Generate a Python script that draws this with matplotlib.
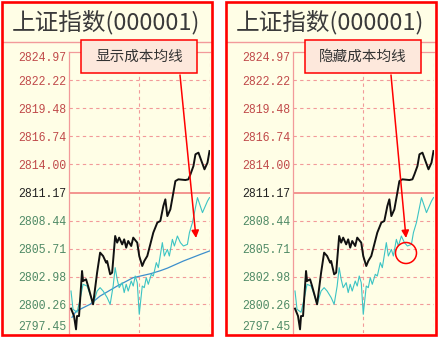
import matplotlib
matplotlib.use("Agg")
import matplotlib.pyplot as plt
from matplotlib.patches import Rectangle, Circle, FancyArrowPatch
from matplotlib.lines import Line2D
from matplotlib.transforms import IdentityTransform

plt.rcParams['font.family'] = ['Noto Sans CJK SC', 'DejaVu Sans']

# ==========================================
# ================DONNÉES===================
# ==========================================

title = "上证指数(000001)"
box_labels = ["显示成本均线", "隐藏成本均线"]

# Graduations de l'axe des prix (haut -> bas)
y_ticks = [2824.97, 2822.22, 2819.48, 2816.74, 2814.00, 2811.17,
           2808.44, 2805.71, 2802.98, 2800.26, 2797.45]
prev_close = 2811.17

# Cours (ligne noire), en minutes depuis le bord gauche visible
price_t = [2, 5, 7, 8, 10, 13, 14, 17, 19, 24, 28, 31, 34, 37, 38, 41, 43,
           46, 48, 50, 53, 55, 57, 59, 62, 64, 68, 70, 73, 75, 78, 81, 84,
           88, 91, 94, 96, 98, 101, 104, 106, 109, 116, 119, 121, 124, 126,
           129, 132, 135, 138, 140]
price_v = [2799.84, 2799.11, 2797.81, 2799.11, 2799.11, 2803.52, 2802.54,
           2802.71, 2802.05, 2800.26, 2803.36, 2805.32, 2804.99, 2804.34,
           2804.50, 2803.20, 2803.36, 2806.95, 2806.30, 2806.79, 2806.13,
           2806.62, 2805.81, 2806.46, 2805.97, 2806.79, 2806.30, 2804.99,
           2804.01, 2804.50, 2804.99, 2806.13, 2807.28, 2808.26, 2808.42,
           2809.88, 2810.54, 2808.90, 2809.56, 2811.20, 2812.33, 2812.50,
           2812.43, 2812.50, 2812.99, 2813.80, 2814.95, 2815.11, 2814.29,
           2813.48, 2814.13, 2815.27]

# Ligne cyan
avg_t = [2, 4, 8, 11, 14, 18, 21, 24, 28, 31, 34, 38, 41, 44, 46, 48, 50,
         53, 55, 57, 59, 62, 64, 66, 68, 70, 73, 75, 77, 79, 82, 84, 87, 89,
         93, 95, 98, 100, 103, 105, 108, 111, 114, 118, 120, 123, 128, 133,
         138, 140]
avg_v = [2801.56, 2799.77, 2799.48, 2800.75, 2802.22, 2802.05, 2801.24,
         2800.26, 2801.56, 2801.89, 2801.56, 2800.92, 2800.26, 2802.05,
         2803.85, 2802.71, 2801.89, 2802.38, 2801.41, 2802.22, 2801.56,
         2802.54, 2802.05, 2803.03, 2802.38, 2799.28, 2802.05, 2801.89,
         2802.87, 2802.22, 2803.20, 2803.03, 2804.34, 2803.85, 2806.30,
         2804.99, 2805.64, 2804.99, 2806.62, 2805.97, 2806.95, 2806.30,
         2805.97, 2806.13, 2807.28, 2808.26, 2810.71, 2809.24, 2810.37,
         2810.71]

# Ligne de coût moyen (bleue), seulement dans le panneau gauche
cost_t = [3, 7, 13, 21, 31, 48, 64, 81, 91, 98, 114, 131, 140]
cost_v = [2798.99, 2799.57, 2799.87, 2800.26, 2801.07, 2802.05, 2802.87,
          2803.25, 2803.55, 2803.80, 2804.50, 2805.15, 2805.48]

# ==========================================
# ================FIGURE====================
# ==========================================

W, H = 438, 337
fig = plt.figure(figsize=(W / 100, H / 100), dpi=100, facecolor='white')
px = IdentityTransform()

bg = '#fffee6'
pink = '#f29a9a'
red_lbl = '#c04a4a'
green_lbl = '#4f8a66'

# position des fleches (depart x, arrivee x) pour chaque panneau
arrow_x = [(180, 196), (391, 406)]


def box(x0, y0, x1, y1, **kw):
    # rectangle en pixels (origine en haut a gauche)
    r = Rectangle((x0, H - y1), x1 - x0, y1 - y0, transform=px, **kw)
    fig.add_artist(r)
    return r


for k in range(2):
    dx = 224 * k

    # fond + ligne sous le titre
    box(2 + dx, 2, 212 + dx, 335, facecolor=bg, edgecolor='none', zorder=-2)
    fig.add_artist(Line2D([3 + dx, 211 + dx], [H - 42, H - 42], transform=px,
                          color=pink, lw=1.0, zorder=-1))
    fig.text(12 + dx, H - 22.5, title, transform=px, ha='left', va='center',
             fontsize=17, color='#3a3a3a')

    ax = fig.add_axes([(69 + dx) / W, 4 / H, 140.5 / W, 281 / H])
    ax.set_facecolor(bg)
    ax.set_xlim(0, 140)
    ax.set_ylim(y_ticks[-1], y_ticks[0])

    for v in y_ticks[1:-1]:
        if v == prev_close:
            ax.axhline(v, color='#f07878', lw=1.1, zorder=1)
        else:
            ax.axhline(v, color=pink, lw=0.8, ls=(0, (3, 3)), zorder=1)
    ax.axvline(70, color=pink, lw=0.8, ls=(0, (3, 3)), zorder=1)
    ax.axvline(140, color=pink, lw=0.8, ls=(0, (3, 3)), zorder=1)

    for s in ['right', 'bottom']:
        ax.spines[s].set_visible(False)
    for s in ['left', 'top']:
        ax.spines[s].set_color(pink)
        ax.spines[s].set_linewidth(0.9)

    ax.set_xticks([])
    ax.set_yticks(y_ticks)
    ax.set_yticklabels(['%.2f' % v for v in y_ticks], family='Liberation Mono',
                       fontsize=8.3)
    ax.tick_params(axis='y', length=0, pad=2)
    labels = ax.get_yticklabels()
    for v, lab in zip(y_ticks, labels):
        if v > prev_close:
            lab.set_color(red_lbl)
        elif v < prev_close:
            lab.set_color(green_lbl)
        else:
            lab.set_color('#222222')
    labels[0].set_va('top')
    labels[-1].set_va('bottom')

    if k == 0:
        ax.plot(cost_t, cost_v, color='#3d8fcc', lw=0.9, zorder=3)
    ax.plot(avg_t, avg_v, color='#3cc4c4', lw=0.8, zorder=3)
    ax.plot(price_t, price_v, color='#111111', lw=1.4, zorder=4)

    # cadre rouge par dessus
    box(2 + dx, 2, 212 + dx, 335, facecolor='none', edgecolor='#ff0000',
        lw=1.9, zorder=5)

    # boite d'annotation + fleche
    box(81 + dx, 40, 197 + dx, 73, facecolor='#fde8dc', edgecolor='#ff0000',
        lw=1.1, zorder=6)
    fig.text(139 + dx, H - 57, box_labels[k], transform=px, ha='center',
             va='center', fontsize=10.5, color='#333333', zorder=7)
    x_from, x_to = arrow_x[k]
    arr = FancyArrowPatch((x_from, H - 75), (x_to, H - 238),
                          transform=px, arrowstyle='-|>', mutation_scale=11,
                          color='#ff0000', lw=1.1, shrinkA=0, shrinkB=0, zorder=6)
    fig.add_artist(arr)

# cercle rouge dans le panneau droit
fig.add_artist(Circle((406, H - 253), 10.5, transform=px, facecolor='none',
                      edgecolor='#ff0000', lw=1.1, zorder=6))

fig.savefig('out.png', dpi=100, facecolor='white')
